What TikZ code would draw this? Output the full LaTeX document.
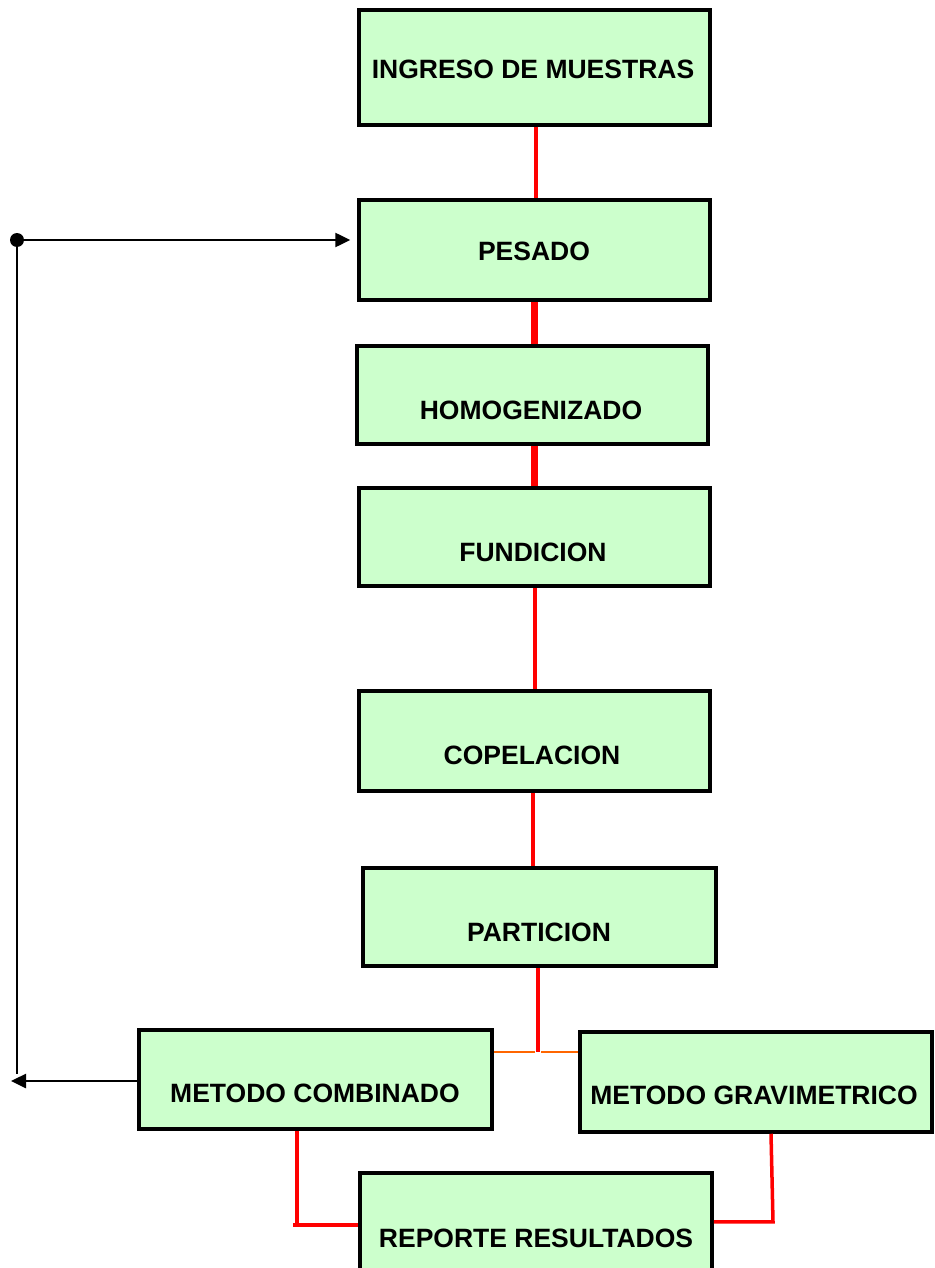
\documentclass[tikz,border=0pt]{standalone}
\usepackage{fontspec}
\setmainfont{Liberation Sans}
\usetikzlibrary{arrows.meta,calc}
\definecolor{boxfill}{HTML}{CCFFCC}
\definecolor{redline}{HTML}{FF0000}
\definecolor{orangeline}{HTML}{FF6600}
\tikzset{
  stepbox/.style={draw=black, fill=boxfill, line width=3.5pt, rectangle, inner sep=0pt},
  lbl/.style={font=\fontsize{26.5}{28}\selectfont\bfseries, inner sep=0pt, anchor=base},
  redthin/.style={draw=redline, line width=3.5pt},
  redthick/.style={draw=redline, line width=7pt},
  orangethin/.style={draw=orangeline, line width=2.5pt},
  blackline/.style={draw=black, line width=2.5pt},
  tip/.style={-{Triangle[length=15pt,width=14pt]}}
}
\begin{document}
\begin{tikzpicture}[x=1pt,y=-1pt]
\useasboundingbox (0,0) rectangle (934,1268);
% boxes
\node[stepbox, minimum width=351pt, minimum height=115pt] (b1) at (534.5,67.5) {};
\node[stepbox, minimum width=351pt, minimum height=100pt] (b2) at (534.5,250) {};
\node[stepbox, minimum width=351pt, minimum height=98pt] (b3) at (532.5,395) {};
\node[stepbox, minimum width=351pt, minimum height=98pt] (b4) at (534.5,537) {};
\node[stepbox, minimum width=351pt, minimum height=100pt] (b5) at (534.5,741) {};
\node[stepbox, minimum width=353pt, minimum height=98pt] (b6) at (539.5,917) {};
\node[stepbox, minimum width=353pt, minimum height=99pt] (b7) at (315.5,1079.5) {};
\node[stepbox, minimum width=352pt, minimum height=100pt] (b8) at (756,1082) {};
\node[stepbox, minimum width=352pt, minimum height=130pt] (b9) at (536,1238) {};
% labels
\node[lbl] (t1) at (533,79) {INGRESO DE MUESTRAS};
\node[lbl] (t2) at (534,260) {PESADO};
\node[lbl] (t3) at (531,419) {HOMOGENIZADO};
\node[lbl] (t4) at (533,561) {FUNDICION};
\node[lbl] (t5) at (532,764) {COPELACION};
\node[lbl] (t6) at (539,941) {PARTICION};
\node[lbl] (t7) at (315,1102) {METODO COMBINADO};
\node[lbl] (t8) at (754,1104) {METODO GRAVIMETRICO};
\node[lbl] (t9) at (536,1247) {REPORTE RESULTADOS};
% vertical chain
\draw[redthin] ($(b1.south)+(1.5,0)$) -- ($(b2.north)+(1.5,0)$);
\draw[redthick] ($(b2.south)+(-0.5,0)$) -- ($(b3.north)+(1.5,0)$);
\draw[redthick] ($(b3.south)+(1.5,0)$) -- ($(b4.north)+(-0.5,0)$);
\draw[redthin] ($(b4.south)+(0.5,0)$) -- ($(b5.north)+(0.5,0)$);
\draw[redthin] ($(b5.south)+(-1.5,0)$) -- ($(b6.north)+(-6.5,0)$);
% split
\coordinate (j) at ($(b6.south)+(-1.5,84)$);
\draw[redthin] ($(b6.south)+(-1.5,0)$) -- (j);
\draw[orangethin] (b7.east |- j) -- ($(j)+(-3,0)$);
\draw[orangethin] ($(j)+(3,0)$) -- (b8.west |- j);
% bottom connectors
\coordinate (c7) at ($(b7.south)+(-18.5,94)$);
\draw[redthin] ($(b7.south)+(-18.5,0)$) -- (c7) -- ($(c7)+(-4,0)$);
\draw[redthin] (c7) -- (b9.west |- c7);
\coordinate (c8) at ($(b8.south)+(17,88)$);
\draw[redthin] ($(b8.south)+(15,0)$) -- (c8) -- (b9.east |- c8);
% feedback loop
\coordinate (lb) at (11,1081);
\coordinate (dot) at (17,240);
\draw[blackline, tip] (b7.west |- lb) -- (lb);
\draw[blackline] (dot) -- (17,1074);
\draw[blackline, tip] (dot) -- ($(b2.west |- dot)+(-7,0)$);
\fill[black] (dot) circle (7pt);
\end{tikzpicture}
\end{document}
